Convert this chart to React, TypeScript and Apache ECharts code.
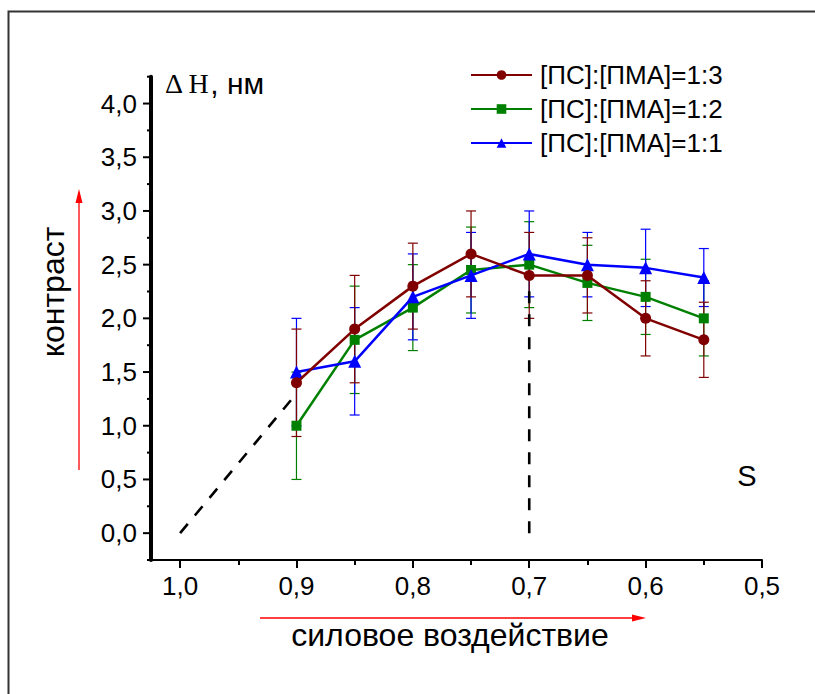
import React, { useEffect, useRef } from 'react';
import * as echarts from 'echarts';

const xValues = [0.9, 0.85, 0.8, 0.75, 0.7, 0.65, 0.6, 0.55];
const ratio13 = [1.4, 1.9, 2.3, 2.6, 2.4, 2.4, 2.0, 1.8];
const err13 = [0.5, 0.5, 0.4, 0.4, 0.4, 0.35, 0.35, 0.35];
const ratio12 = [1.0, 1.8, 2.1, 2.45, 2.5, 2.33, 2.2, 2.0];
const err12 = [0.5, 0.5, 0.4, 0.4, 0.4, 0.35, 0.35, 0.35];
const ratio11 = [1.5, 1.6, 2.2, 2.4, 2.6, 2.5, 2.47, 2.38];
const err11 = [0.5, 0.5, 0.4, 0.4, 0.4, 0.3, 0.36, 0.27];
const seriesNames = ['[ПС]:[ПМА]=1:3', '[ПС]:[ПМА]=1:2', '[ПС]:[ПМА]=1:1'];
const seriesColors = ['#800000', '#008000', '#0000ff'];
const xRange = [0.5, 1.025];
const yRange = [-0.25, 4.25];
const xTicks = [0.5, 0.6, 0.7, 0.8, 0.9, 1.0];
const xMinorTicks = [0.55, 0.65, 0.75, 0.85, 0.95];
const yTicks = [0, 0.5, 1.0, 1.5, 2.0, 2.5, 3.0, 3.5, 4.0];
const yMinorTicks = [-0.25, 0.25, 0.75, 1.25, 1.75, 2.25, 2.75, 3.25, 3.75, 4.25];
const extrapolation = [[1.0, 0], [0.9, 1.3]];
const optimumLine = [[0.7, 0], [0.7, 2.3]];

const SANS = '"Liberation Sans", Arial, sans-serif';
const SERIF = '"Liberation Serif", "Times New Roman", serif';
const fmt = (v: number) => v.toFixed(1).replace('.', ',');

const errorSeries = (values: number[], errs: number[], color: string) => ({
  type: 'custom',
  silent: true,
  z: 1,
  data: xValues.map((x, i) => [x, values[i] - errs[i], values[i] + errs[i]]),
  encode: { x: 0, y: [1, 2] },
  renderItem: (params: any, api: any) => {
    const x = api.value(0);
    const lo = api.coord([x, api.value(1)]);
    const hi = api.coord([x, api.value(2)]);
    const w = 5;
    const st = { stroke: color, lineWidth: 1.2 };
    return {
      type: 'group',
      children: [
        { type: 'line', shape: { x1: lo[0], y1: lo[1], x2: hi[0], y2: hi[1] }, style: st },
        { type: 'line', shape: { x1: lo[0] - w, y1: lo[1], x2: lo[0] + w, y2: lo[1] }, style: st },
        { type: 'line', shape: { x1: hi[0] - w, y1: hi[1], x2: hi[0] + w, y2: hi[1] }, style: st },
      ],
    };
  },
});

// Left axis line and its ticks, placed through the chart's own scales
const yAxisTickRows = [
  ...yTicks.map((v) => [xRange[1], v, 8]),
  ...yMinorTicks.map((v) => [xRange[1], v, 4]),
];
const yAxisFrameSeries = {
  type: 'custom',
  silent: true,
  clip: false,
  z: 6,
  data: [[xRange[1], yRange[0], yRange[1]]],
  encode: { x: 0, y: [1, 2] },
  renderItem: (params: any, api: any) => {
    const x = api.value(0);
    const lo = api.coord([x, api.value(1)]);
    const hi = api.coord([x, api.value(2)]);
    const children: any[] = [
      { type: 'line', shape: { x1: lo[0], y1: lo[1], x2: hi[0], y2: hi[1] }, style: { stroke: '#000', lineWidth: 4 } },
    ];
    yAxisTickRows.forEach((row) => {
      const p = api.coord([row[0], row[1]]);
      children.push({ type: 'line', shape: { x1: p[0] - row[2], y1: p[1], x2: p[0], y2: p[1] }, style: { stroke: '#000', lineWidth: 2 } });
    });
    return { type: 'group', children };
  },
};

const lineSeries = (name: string, values: number[], color: string, symbol: string, size: number, z: number) => ({
  type: 'line',
  name,
  data: xValues.map((x, i) => [x, values[i]]),
  symbol,
  symbolSize: size,
  showAllSymbol: true,
  lineStyle: { color, width: 2.5 },
  itemStyle: { color, opacity: 1 },
  z,
});

const dashedSeries = (data: number[][]) => ({
  type: 'line',
  data,
  symbol: 'none',
  silent: true,
  lineStyle: { color: '#000', width: 2.6, type: [12, 11] },
  z: 2,
});

export default function App() {
  const ref = useRef<HTMLDivElement>(null);
  useEffect(() => {
    if (!ref.current) return;
    const chart = echarts.init(ref.current, null, { renderer: 'svg' });
    chart.setOption({
      animation: false,
      backgroundColor: '#fff',
      grid: { left: 151, top: 76.7, right: 53, bottom: 134 },
      legend: {
        data: seriesNames,
        orient: 'vertical',
        left: 470,
        top: 62,
        padding: 0,
        itemWidth: 61,
        itemHeight: 12,
        itemGap: 8,
        textStyle: { fontSize: 26, fontFamily: SANS, color: '#000', padding: [0, 0, 0, 3] },
      },
      xAxis: [
        {
          type: 'value',
          inverse: true,
          min: xRange[0],
          max: xRange[1],
          position: 'bottom',
          splitLine: { show: false },
          axisLine: { show: true, onZero: false, lineStyle: { color: '#000', width: 2 } },
          axisTick: { show: true, customValues: xTicks, length: 8, lineStyle: { color: '#000', width: 2 } },
          axisLabel: { show: true, customValues: xTicks, formatter: fmt, fontSize: 26, fontFamily: SANS, color: '#000', margin: 13 },
        },
        {
          type: 'value',
          inverse: true,
          min: xRange[0],
          max: xRange[1],
          position: 'bottom',
          splitLine: { show: false },
          axisLine: { show: false, onZero: false },
          axisTick: { show: true, customValues: xMinorTicks, length: 5, lineStyle: { color: '#000', width: 2 } },
          axisLabel: { show: false },
        },
      ],
      yAxis: {
        type: 'value',
        min: yRange[0],
        max: yRange[1],
        position: 'left',
        splitLine: { show: false },
        axisLine: { show: true, onZero: false, lineStyle: { color: '#000', width: 4 } },
        axisTick: { show: false },
        axisLabel: { show: true, customValues: yTicks, formatter: fmt, fontSize: 26, fontFamily: SANS, color: '#000', margin: 14 },
      },
      series: [
        yAxisFrameSeries,
        errorSeries(ratio12, err12, seriesColors[1]),
        errorSeries(ratio11, err11, seriesColors[2]),
        errorSeries(ratio13, err13, seriesColors[0]),
        dashedSeries(extrapolation),
        dashedSeries(optimumLine),
        lineSeries(seriesNames[1], ratio12, seriesColors[1], 'rect', 10, 3),
        lineSeries(seriesNames[2], ratio11, seriesColors[2], 'triangle', 13, 4),
        lineSeries(seriesNames[0], ratio13, seriesColors[0], 'circle', 11, 5),
      ],
      graphic: [
        {
          type: 'rect',
          shape: { x: 8.5, y: 11.5, width: 900, height: 900 },
          style: { fill: 'none', stroke: '#333', lineWidth: 2 },
          silent: true,
          z: -10,
        },
        {
          type: 'text',
          x: 165,
          y: 83,
          style: {
            text: '{a|Δ H}{b|, нм}',
            verticalAlign: 'middle',
            rich: {
              a: { fontFamily: SERIF, fontSize: 28, fill: '#000' },
              b: { fontFamily: SANS, fontSize: 30, fill: '#000' },
            },
          },
        },
        {
          type: 'text',
          x: 53,
          y: 292,
          rotation: Math.PI / 2,
          style: { text: 'контраст', fontFamily: SANS, fontSize: 32, fill: '#000', align: 'center', verticalAlign: 'middle' },
        },
        {
          type: 'text',
          x: 450,
          y: 635,
          style: { text: 'силовое воздействие', fontFamily: SANS, fontSize: 32, fill: '#000', align: 'center', verticalAlign: 'middle' },
        },
        {
          type: 'text',
          x: 747,
          y: 476,
          style: { text: 'S', fontFamily: SANS, fontSize: 29, fill: '#000', align: 'center', verticalAlign: 'middle' },
        },
        {
          type: 'line',
          shape: { x1: 79, y1: 470, x2: 79, y2: 200 },
          style: { stroke: '#ff0000', lineWidth: 1.3 },
        },
        {
          type: 'polygon',
          shape: { points: [[79, 189], [75.5, 203], [82.5, 203]] },
          style: { fill: '#ff0000' },
        },
        {
          type: 'line',
          shape: { x1: 260, y1: 618, x2: 634, y2: 618 },
          style: { stroke: '#ff0000', lineWidth: 1.3 },
        },
        {
          type: 'polygon',
          shape: { points: [[646, 618], [632, 614.5], [632, 621.5]] },
          style: { fill: '#ff0000' },
        },
      ],
    });
    return () => chart.dispose();
  }, []);
  return <div ref={ref} style={{ position: 'absolute', left: 0, top: 0, width: 815, height: 694 }} />;
}
